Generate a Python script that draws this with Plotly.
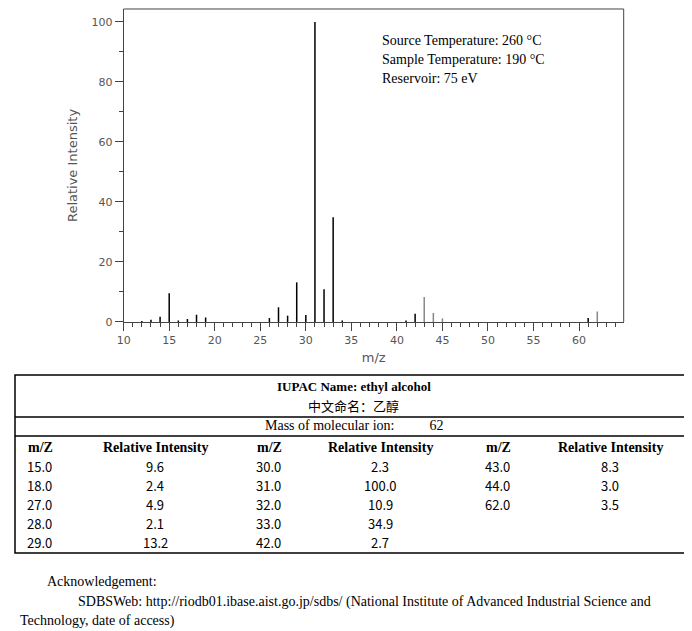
import plotly.graph_objects as go

# peaks (m/z, relative intensity)
mz_dark = [12, 13, 14, 15, 16, 17, 18, 19, 26, 27, 28, 29, 30, 31, 32, 33, 34, 41, 42, 61]
ri_dark = [0.3, 0.7, 1.7, 9.6, 0.5, 1.0, 2.4, 1.5, 1.3, 4.9, 2.1, 13.2, 2.3, 100.0, 10.9, 34.9, 0.5, 0.5, 2.7, 1.3]
mz_grey = [43, 44, 45, 62]
ri_grey = [8.3, 3.0, 1.2, 3.5]

# table columns
tab_mz = [["15.0", "18.0", "27.0", "28.0", "29.0"],
          ["30.0", "31.0", "32.0", "33.0", "42.0"],
          ["43.0", "44.0", "62.0"]]
tab_ri = [["9.6", "2.4", "4.9", "2.1", "13.2"],
          ["2.3", "100.0", "10.9", "34.9", "2.7"],
          ["8.3", "3.0", "3.5"]]

W, H = 692, 631
# compensate for the page offset seen in the render
def px(x): return min(max(((x - 15.3) / 0.972) / W, 0), 1)
def py(y): return min(max(1 - ((y - 7) / 0.989) / H, 0), 1)

def sticks(xs, ys):
    X, Y = [], []
    for a, b in zip(xs, ys):
        X += [a, a, None]
        Y += [0, b, None]
    return X, Y

fig = go.Figure()
x, y = sticks(mz_dark, ri_dark)
fig.add_trace(go.Scatter(x=x, y=y, mode="lines", line=dict(color="black", width=1.5), hoverinfo="skip"))
x, y = sticks(mz_grey, ri_grey)
fig.add_trace(go.Scatter(x=x, y=y, mode="lines", line=dict(color="#888888", width=1.5), hoverinfo="skip"))

grey = "#555555"
axfont = dict(family="DejaVu Sans", size=11, color=grey)
fig.update_xaxes(domain=[px(122), px(613)], range=[10, 64.9], dtick=5, tick0=10,
                 ticks="outside", ticklen=8, tickcolor="#444", showgrid=False, zeroline=False,
                 showline=True, linecolor="#444", tickfont=axfont,
                 minor=dict(dtick=1, ticks="outside", ticklen=4, tickcolor="#444"),
                 title=dict(text="m/z", font=dict(family="DejaVu Sans", size=13, color=grey), standoff=6))
fig.update_yaxes(domain=[py(321), py(8)], range=[0, 104.3], dtick=20,
                 ticks="outside", ticklen=8, tickcolor="#444", showgrid=False, zeroline=False,
                 showline=True, linecolor="#444", tickfont=axfont,
                 minor=dict(dtick=10, ticks="outside", ticklen=4, tickcolor="#444"),
                 title=dict(text="Relative Intensity", font=dict(family="DejaVu Sans", size=13, color=grey), standoff=10))

shapes = [
    # top and right frame of plot
    dict(type="line", xref="paper", yref="paper", x0=px(122), x1=px(613), y0=py(8), y1=py(8), line=dict(color="#444", width=1)),
    dict(type="line", xref="paper", yref="paper", x0=px(613), x1=px(613), y0=py(8), y1=py(321), line=dict(color="#444", width=1)),
    # table
    dict(type="rect", xref="paper", yref="paper", x0=px(10), x1=px(688), y0=py(374), y1=py(552), line=dict(color="black", width=1.5)),
    dict(type="line", xref="paper", yref="paper", x0=px(10), x1=px(688), y0=py(416), y1=py(416), line=dict(color="black", width=1.5)),
    dict(type="line", xref="paper", yref="paper", x0=px(10), x1=px(688), y0=py(435), y1=py(435), line=dict(color="black", width=1.5)),
]

serif = "Liberation Serif"
ann = []
def text(t, x, y, size=13, anchor="left", bold=False, family=serif):
    ann.append(dict(text=f"<b>{t}</b>" if bold else t, x=px(x), y=py(y), xref="paper", yref="paper",
                    showarrow=False, xanchor=anchor, yanchor="middle",
                    font=dict(family=family, size=size, color="black")))

text("Source Temperature: 260 °C", 374, 40, size=14)
text("Sample Temperature: 190 °C", 374, 59, size=14)
text("Reservoir: 75 eV", 374, 78, size=14)

text("IUPAC Name: ethyl alcohol", 348, 386, anchor="center", bold=True)
text("中文命名：乙醇", 348, 405, anchor="center", family="Noto Sans CJK SC")
text("Mass of molecular ion:&nbsp;&nbsp;&nbsp;&nbsp;&nbsp;&nbsp;&nbsp;&nbsp;&nbsp;&nbsp;62", 348, 425, anchor="center", size=14)

mz_x = [25, 250, 475]
ri_x = [153, 374, 600]
for c in range(3):
    text("m/Z", mz_x[c] + 15, 447, size=14, anchor="center", bold=True)
    text("Relative Intensity", ri_x[c], 447, size=14, anchor="center", bold=True)
    for r, (m, v) in enumerate(zip(tab_mz[c], tab_ri[c])):
        yy = 466 + r * 19
        text(m, mz_x[c], yy, size=13, family="Noto Sans CJK SC")
        text(v, ri_x[c], yy, size=13, anchor="center", family="Noto Sans CJK SC")

text("Acknowledgement:", 45, 581, size=14)
text("SDBSWeb: http://riodb01.ibase.aist.go.jp/sdbs/ (National Institute of Advanced Industrial Science and", 75, 601, size=14)
text("Technology, date of access)", 18, 620, size=14)

fig.update_layout(width=W, height=H, margin=dict(l=0, r=0, t=0, b=0),
                  plot_bgcolor="white", paper_bgcolor="white", showlegend=False,
                  shapes=shapes, annotations=ann)

fig.write_html("out.html")
